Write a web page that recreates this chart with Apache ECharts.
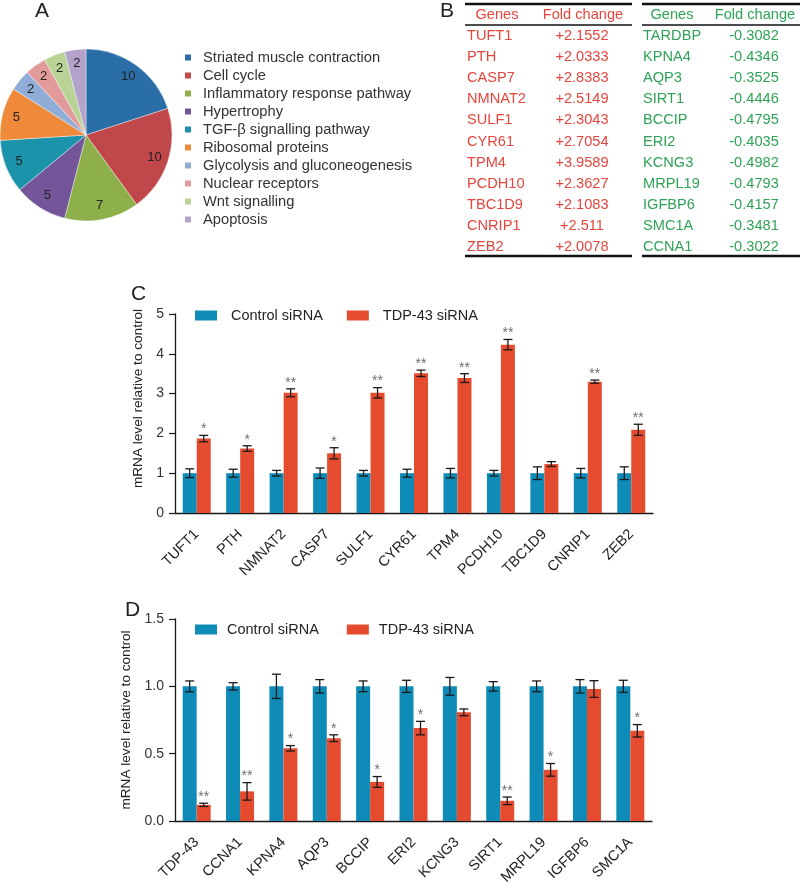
<!DOCTYPE html>
<html><head><meta charset="utf-8">
<script src="https://cdn.jsdelivr.net/npm/echarts@6/dist/echarts.min.js"></script>
<style>html,body{margin:0;padding:0;background:#fff}#c{width:805px;height:882px}</style>
</head><body><div id="c"></div>
<script>
// ---- Panel A data ----
const pieCategories = ['Striated muscle contraction','Cell cycle','Inflammatory response pathway','Hypertrophy','TGF-\u03b2 signalling pathway','Ribosomal proteins','Glycolysis and gluconeogenesis','Nuclear receptors','Wnt signalling','Apoptosis'];
const pieValues = [10,10,7,5,5,5,2,2,2,2];
// ---- Panel B data ----
const upGenes = ['TUFT1','PTH','CASP7','NMNAT2','SULF1','CYR61','TPM4','PCDH10','TBC1D9','CNRIP1','ZEB2'];
const upFold = ['+2.1552','+2.0333','+2.8383','+2.5149','+2.3043','+2.7054','+3.9589','+2.3627','+2.1083','+2.511','+2.0078'];
const downGenes = ['TARDBP','KPNA4','AQP3','SIRT1','BCCIP','ERI2','KCNG3','MRPL19','IGFBP6','SMC1A','CCNA1'];
const downFold = ['-0.3082','-0.4346','-0.3525','-0.4446','-0.4795','-0.4035','-0.4982','-0.4793','-0.4157','-0.3481','-0.3022'];
const tableHeaders = ['Genes','Fold change'];
// ---- Panel C data ----
const cGenes = ['TUFT1','PTH','NMNAT2','CASP7','SULF1','CYR61','TPM4','PCDH10','TBC1D9','CNRIP1','ZEB2'];
const cControl = [1,1,1,1,1,1,1,1,1,1,1];
const cControlErr = [0.11,0.1,0.07,0.13,0.07,0.1,0.12,0.07,0.16,0.12,0.16];
const cTdp = [1.87,1.62,3.02,1.5,3.02,3.51,3.39,4.23,1.23,3.3,2.09];
const cTdpErr = [0.08,0.07,0.1,0.14,0.13,0.08,0.11,0.13,0.06,0.04,0.14];
const cStars = ['*','*','**','*','**','**','**','**','','**','**'];
// ---- Panel D data ----
const dGenes = ['TDP-43','CCNA1','KPNA4','AQP3','BCCIP','ERI2','KCNG3','SIRT1','MRPL19','IGFBP6','SMC1A'];
const dControl = [1,1,1,1,1,1,1,1,1,1,1];
const dControlErr = [0.04,0.027,0.09,0.05,0.04,0.045,0.066,0.035,0.04,0.05,0.045];
const dTdp = [0.12,0.22,0.54,0.615,0.29,0.69,0.807,0.15,0.38,0.98,0.67];
const dTdpErr = [0.012,0.065,0.02,0.025,0.04,0.05,0.025,0.028,0.047,0.062,0.046];
const dStars = ['**','**','*','*','*','*','','**','*','','*'];
const seriesNames = ['Control siRNA','TDP-43 siRNA'];

// ---- styles ----
const FONT = '"Liberation Sans", Arial, sans-serif';
const pieColors = ['#2a6ea8','#c0474a','#8db04a','#74559a','#1a93ab','#ef8a3a','#8fadd6','#e29b9a','#b9d397','#b3a2c9'];
const BLUE = '#0f8bb7', RED = '#e54c2f';
const TRED = '#e4453d', TGREEN = '#2fa257';

function errSeries(xi, vals, errs, offset, stars) {
  return {
    type: 'custom', xAxisIndex: xi, yAxisIndex: xi, silent: true, z: 10,
    data: vals.map((v, i) => [i, v, errs[i]]),
    renderItem(params, api) {
      const i = api.value(0), v = api.value(1), e = api.value(2);
      const top = api.coord([i, v + e]), bot = api.coord([i, v - e]);
      const x = top[0] + offset, cw = 4.5;
      const st = { stroke: '#1a1a1a', lineWidth: 1.3 };
      const ch = [
        { type: 'line', shape: { x1: x, y1: top[1], x2: x, y2: bot[1] }, style: st },
        { type: 'line', shape: { x1: x - cw, y1: top[1], x2: x + cw, y2: top[1] }, style: st },
        { type: 'line', shape: { x1: x - cw, y1: bot[1], x2: x + cw, y2: bot[1] }, style: st }
      ];
      const s = stars && stars[params.dataIndex];
      if (s) ch.push({ type: 'text', x: x, y: top[1] + 1, style: { text: s, fill: '#6f6f6f', font: '14px ' + FONT, align: 'center', verticalAlign: 'bottom' } });
      return { type: 'group', children: ch };
    }
  };
}

const graphics = [];
const txt = (x, y, s, color, align, size) => graphics.push({ type: 'text', x: x, y: y, silent: true,
  style: { text: s, fill: color, font: (size || 14.6) + 'px ' + FONT, align: align, verticalAlign: 'middle' } });
const line = (x1, y1, x2, y2, w) => graphics.push({ type: 'line', silent: true, shape: { x1, y1, x2, y2 }, style: { stroke: '#111', lineWidth: w } });
// panel letters
txt(35, 11, 'A', '#222', 'left', 21);
txt(440, 11, 'B', '#222', 'left', 21);
txt(131, 294, 'C', '#222', 'left', 21);
txt(125, 610, 'D', '#222', 'left', 21);
// table
line(465, 4, 632, 4, 2.5); line(642, 4, 800, 4, 2.5);
line(465, 25, 632, 25, 1.3); line(642, 25, 800, 25, 1.3);
line(465, 256, 632, 256, 2.5); line(642, 256, 800, 256, 2.5);
txt(497, 15, tableHeaders[0], TRED, 'center'); txt(583, 15, tableHeaders[1], TRED, 'center');
txt(672, 15, tableHeaders[0], TGREEN, 'center'); txt(755, 15, tableHeaders[1], TGREEN, 'center');
const rowY = i => 36 + i * 21.1;
upGenes.forEach((g, i) => { txt(467, rowY(i), g, TRED, 'left'); txt(582, rowY(i), upFold[i], TRED, 'center'); });
downGenes.forEach((g, i) => { txt(643, rowY(i), g, TGREEN, 'left'); txt(754, rowY(i), downFold[i], TGREEN, 'center'); });

const xAxisBase = (gi, data) => ({
  gridIndex: gi, type: 'category', data: data,
  axisLine: { lineStyle: { color: '#1a1a1a', width: 1.3 } },
  axisTick: { length: 5, lineStyle: { color: '#1a1a1a', width: 1.2 } },
  axisLabel: { rotate: 45, fontSize: 14.5, color: '#222', margin: 19, interval: 0, fontFamily: FONT }
});
const yAxisBase = (gi, max, iv, fmt, namePad) => ({
  gridIndex: gi, type: 'value', min: 0, max: max, interval: iv,
  splitLine: { show: false },
  axisLine: { show: true, lineStyle: { color: '#1a1a1a', width: 1.3 } },
  axisTick: { show: true, length: 6, lineStyle: { color: '#1a1a1a', width: 1.2 } },
  axisLabel: { fontSize: 14, color: '#333', fontFamily: FONT, formatter: fmt, margin: 11 },
  name: 'mRNA level relative to control', nameLocation: 'middle', nameGap: 29,
  nameTextStyle: { fontSize: 13.6, color: '#222', fontFamily: FONT, padding: namePad }
});
const barLegend = (top, pad, gap) => ({
  data: seriesNames, left: 195, top: top, padding: 0, itemWidth: 22, itemHeight: 10, itemGap: gap, icon: 'rect',
  selectedMode: false, textStyle: { fontSize: 14.5, color: '#222', fontFamily: FONT, padding: [0, 0, 0, pad] }
});

const chart = echarts.init(document.getElementById('c'), null, { renderer: 'canvas' });
chart.setOption({
  animation: false,
  textStyle: { fontFamily: FONT },
  color: [BLUE, RED],
  grid: [
    { left: 175, right: 152, top: 314, bottom: 369, containLabel: false, outerBoundsMode: 'none' },
    { left: 175, right: 153, top: 619, bottom: 61, containLabel: false, outerBoundsMode: 'none' }
  ],
  xAxis: [xAxisBase(0, cGenes), xAxisBase(1, dGenes)],
  yAxis: [yAxisBase(0, 5, 1, null, [0, 0, 0, 30]), yAxisBase(1, 1.5, 0.5, v => v.toFixed(1), 0)],
  legend: [
    { data: pieCategories.map((n, i) => ({ name: n, itemStyle: { color: pieColors[i] } })),
      orient: 'vertical', left: 183, top: 50, padding: 0, itemWidth: 8, itemHeight: 8, itemGap: 3, icon: 'rect',
      selectedMode: false, textStyle: { fontSize: 14.7, color: '#333', lineHeight: 14, fontFamily: FONT, padding: [0, 0, 0, 6] } },
    barLegend(308, 9, 24), barLegend(622, 5, 28)
  ],
  graphic: graphics,
  series: [
    { type: 'pie', center: [86, 135], radius: [0, 86], startAngle: 90, silent: true,
      data: pieCategories.map((n, i) => ({ name: n, value: pieValues[i], itemStyle: { color: pieColors[i] } })),
      label: { show: false }, labelLine: { show: false },
      itemStyle: { borderColor: '#fff', borderWidth: 0.4 } },
    { type: 'pie', center: [86, 135], radius: [52, 86], startAngle: 90, silent: true, z: 3,
      data: pieCategories.map((n, i) => ({ name: n, value: pieValues[i], itemStyle: { color: 'rgba(0,0,0,0)' } })),
      label: { show: true, position: 'inside', formatter: '{c}', fontSize: 13, color: '#222', fontFamily: FONT },
      labelLine: { show: false } },
    { type: 'bar', name: seriesNames[0], xAxisIndex: 0, yAxisIndex: 0, data: cControl, barWidth: 14, barGap: '0%', itemStyle: { color: BLUE } },
    { type: 'bar', name: seriesNames[1], xAxisIndex: 0, yAxisIndex: 0, data: cTdp, barWidth: 14, barGap: '0%', itemStyle: { color: RED } },
    { type: 'bar', name: seriesNames[0], xAxisIndex: 1, yAxisIndex: 1, data: dControl, barWidth: 14, barGap: '0%', itemStyle: { color: BLUE } },
    { type: 'bar', name: seriesNames[1], xAxisIndex: 1, yAxisIndex: 1, data: dTdp, barWidth: 14, barGap: '0%', itemStyle: { color: RED } },
    errSeries(0, cControl, cControlErr, -7, null),
    errSeries(0, cTdp, cTdpErr, 7, cStars),
    errSeries(1, dControl, dControlErr, -7, null),
    errSeries(1, dTdp, dTdpErr, 7, dStars)
  ]
});
</script></body></html>
